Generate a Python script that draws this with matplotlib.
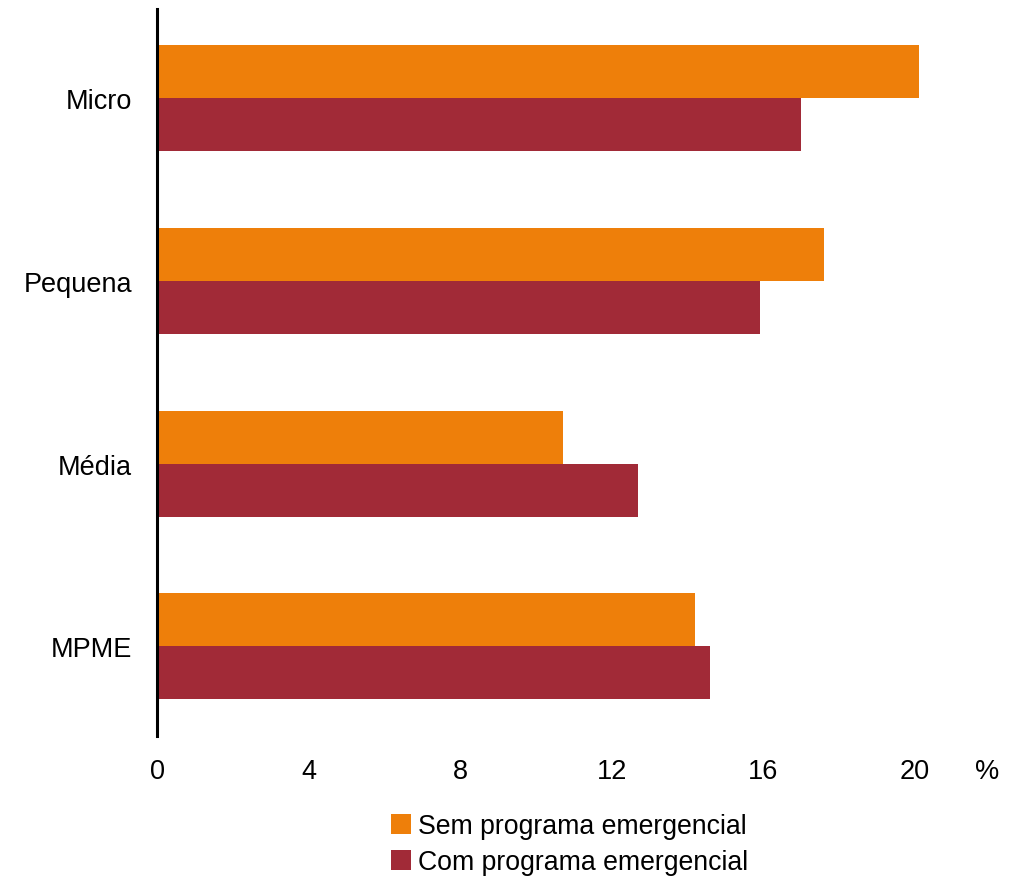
import matplotlib.pyplot as plt
import numpy as np

categories = ['Micro', 'Pequena', 'Média', 'MPME']
sem_programa = [20.1, 17.6, 10.7, 14.2]
com_programa = [17.0, 15.9, 12.7, 14.6]
xticks = [0, 4, 8, 12, 16, 20]

orange = '#EE7F0A'
red = '#A12A37'

plt.rcParams['font.family'] = ['Arial', 'Liberation Sans', 'DejaVu Sans']

fig = plt.figure(figsize=(10.21, 8.78), dpi=100)
ax = fig.add_axes([0.1538, 0.1607, 0.761, 0.828])

y = np.arange(len(categories))[::-1]
h = 0.29
ax.barh(y + h / 2, sem_programa, height=h, color=orange, label='Sem programa emergencial')
ax.barh(y - h / 2, com_programa, height=h, color=red, label='Com programa emergencial')

ax.set_xlim(0, 20.5)
ax.set_ylim(-0.49, 3.49)
ax.set_yticks(y)
ax.set_yticklabels(categories)
ax.set_xticks(xticks)
ax.tick_params(axis='both', length=0, labelsize=19.5)
ax.tick_params(axis='x', pad=16)
ax.tick_params(axis='y', pad=18)

for s in ['top', 'right', 'bottom']:
    ax.spines[s].set_visible(False)
ax.spines['left'].set_linewidth(2.2)
ax.spines['left'].set_color('black')

ax.text(1.069, -0.048, '%', transform=ax.transAxes, fontsize=19.5, ha='center', va='center')

handles, labels = ax.get_legend_handles_labels()
fig.legend(handles, labels, loc='upper center', bbox_to_anchor=(0.558, 0.088),
           frameon=False, fontsize=19.2, handlelength=0.75, handleheight=0.75,
           handletextpad=0.25, labelspacing=0.38, borderpad=0)

fig.savefig('out.png', dpi=100)
